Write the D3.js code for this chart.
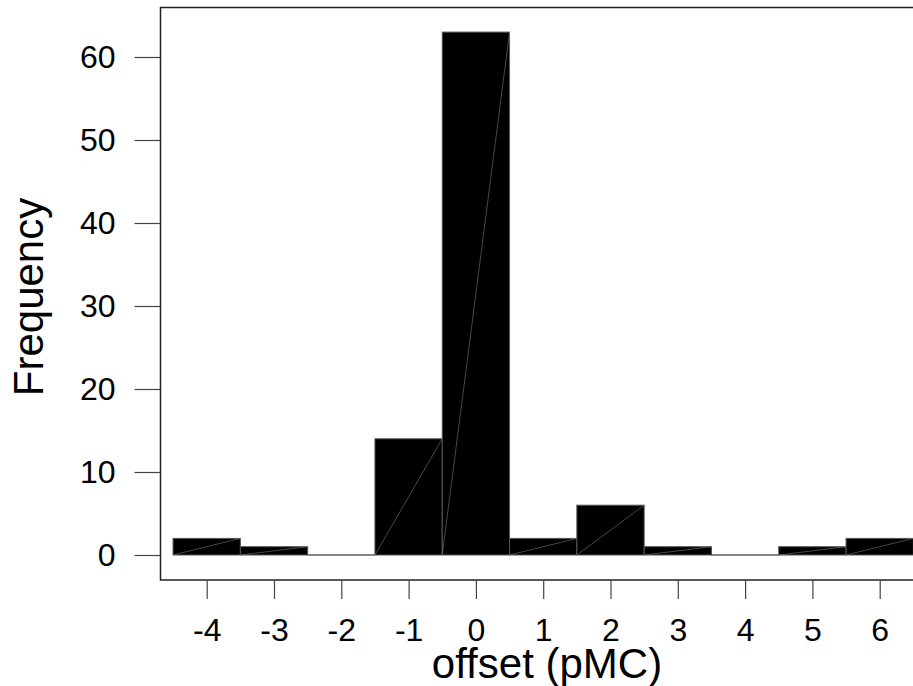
<!DOCTYPE html>
<html>
<head>
<meta charset="utf-8">
<script src="https://cdn.jsdelivr.net/npm/d3@7"></script>
<style>
  html, body { margin: 0; padding: 0; background: #fff; overflow: hidden; }
  svg { display: block; }
  text { font-family: Arial, "Liberation Sans", Helvetica, sans-serif; fill: #000; }
</style>
</head>
<body>
<svg id="chart" width="913" height="686"></svg>
<script>
// Data: histogram bin centers and counts
const binCenters = [-4, -3, -2, -1, 0, 1, 2, 3, 4, 5, 6];
const counts     = [ 2,  1,  0, 14, 63, 2, 6, 1, 0, 1, 2];
const binWidth = 1;
const xTicks = [-4, -3, -2, -1, 0, 1, 2, 3, 4, 5, 6];
const yTicks = [0, 10, 20, 30, 40, 50, 60];
const xLabel = "offset (pMC)";
const yLabel = "Frequency";

const svg = d3.select("#chart");

const x = d3.scaleLinear().domain([-4, 6]).range([206.7, 879.7]);
const y = d3.scaleLinear().domain([0, 60]).range([555, 57]);

// plot box
const boxLeft = 160.5, boxTop = 7.5, boxBottom = 580, boxRight = 960;
svg.append("path")
  .attr("d", `M${boxRight},${boxTop}H${boxLeft}V${boxBottom}H${boxRight}`)
  .attr("fill", "none")
  .attr("stroke", "#222")
  .attr("stroke-width", 1.5);

// bars
const bars = svg.append("g");
binCenters.forEach((c, i) => {
  const x0 = x(c - binWidth / 2), x1 = x(c + binWidth / 2);
  const y0 = y(0), y1 = y(counts[i]);
  if (counts[i] > 0) {
    bars.append("rect")
      .attr("x", x0).attr("y", y1)
      .attr("width", x1 - x0).attr("height", y0 - y1)
      .attr("fill", "#000")
      .attr("stroke", "#555")
      .attr("stroke-width", 1);
    bars.append("line")
      .attr("x1", x0).attr("y1", y0)
      .attr("x2", x1).attr("y2", y1)
      .attr("stroke", "#777")
      .attr("stroke-width", 0.6);
  } else {
    bars.append("line")
      .attr("x1", x0).attr("y1", y0)
      .attr("x2", x1).attr("y2", y0)
      .attr("stroke", "#111")
      .attr("stroke-width", 1.2);
  }
});

const fmt = d => String(d);

// y axis
const yAxisG = svg.append("g")
  .attr("transform", `translate(${boxLeft},0)`)
  .call(d3.axisLeft(y).tickValues(yTicks).tickSize(26).tickPadding(19).tickFormat(fmt));
yAxisG.select(".domain").remove();
yAxisG.selectAll(".tick line").attr("stroke", "#444").attr("stroke-width", 1.2);
yAxisG.selectAll(".tick text")
  .style("font-family", "Arial, 'Liberation Sans', sans-serif")
  .style("font-size", "32px")
  .attr("fill", "#000");

// x axis
const xAxisG = svg.append("g")
  .attr("transform", `translate(0,${boxBottom})`)
  .call(d3.axisBottom(x).tickValues(xTicks).tickSize(19).tickPadding(19).tickFormat(fmt));
xAxisG.select(".domain").remove();
xAxisG.selectAll(".tick line").attr("stroke", "#444").attr("stroke-width", 1.2);
xAxisG.selectAll(".tick text")
  .style("font-family", "Arial, 'Liberation Sans', sans-serif")
  .style("font-size", "32px")
  .attr("fill", "#000");

// axis titles
svg.append("text")
  .attr("x", 547).attr("y", 678)
  .attr("text-anchor", "middle")
  .style("font-size", "42px")
  .text(xLabel);

svg.append("text")
  .attr("transform", "translate(43,297) rotate(-90)")
  .attr("text-anchor", "middle")
  .style("font-size", "42px")
  .text(yLabel);
</script>
</body>
</html>
